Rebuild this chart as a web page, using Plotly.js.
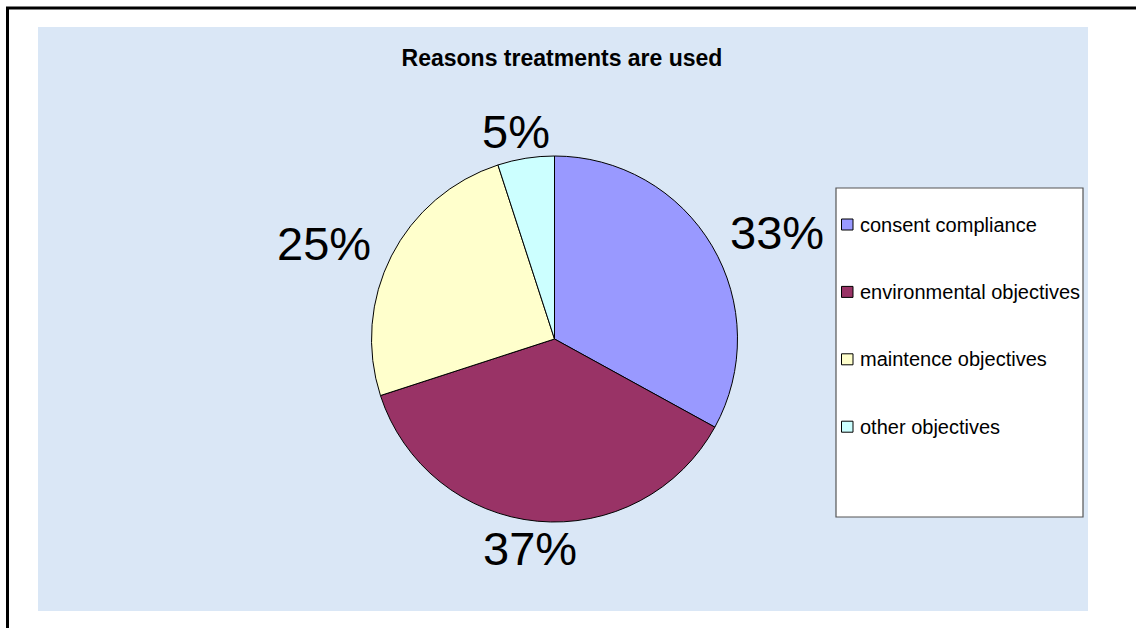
<!DOCTYPE html>
<html>
<head>
<meta charset="utf-8">
<script src="https://cdn.plot.ly/plotly-3.0.1.min.js"></script>
<style>
  html, body { margin: 0; padding: 0; background: #ffffff; }
  #chart { width: 1136px; height: 628px; }
</style>
</head>
<body>
<div id="chart"></div>
<script>
// ---- data ----
const chartTitle = 'Reasons treatments are used';
const categories = ['consent compliance', 'environmental objectives', 'maintence objectives', 'other objectives'];
const shares = [33, 37, 25, 5];
const sliceColors = ['#9999FF', '#993366', '#FFFFCC', '#CCFFFF'];

// ---- layout constants ----
const W = 1136, H = 628;
const FONT = 'Liberation Sans, Arial, sans-serif';
const CX = 554.5, CY = 339, R = 183;          // pie centre / radius (px)
const LRX = 212, LRY = 194;                    // label ring (px)
const PCT_SIZE = 47;
const px = x => x / W;
const py = y => 1 - y / H;

const total = shares.reduce((a, b) => a + b, 0);

const annotations = [];
const shapes = [];

// panel and frame
shapes.push({type: 'rect', xref: 'paper', yref: 'paper', layer: 'below',
  x0: px(38), x1: px(1088), y0: py(611), y1: py(27),
  fillcolor: '#dae7f6', line: {width: 0}});
shapes.push({type: 'line', xref: 'paper', yref: 'paper', layer: 'below',
  x0: px(6), x1: px(1136), y0: py(8), y1: py(8), line: {color: '#000', width: 3}});
shapes.push({type: 'line', xref: 'paper', yref: 'paper', layer: 'below',
  x0: px(7.5), x1: px(7.5), y0: py(7), y1: py(628), line: {color: '#000', width: 3}});

// percentage labels around the pie
let cum = 0;
shares.forEach((v, i) => {
  const mid = (cum + v / 2) / total * 2 * Math.PI;
  cum += v;
  const s = Math.sin(mid), c = Math.cos(mid);
  const txt = Math.round(v / total * 100) + '%';
  const hw = 0.5 * PCT_SIZE * (0.556 * (txt.length - 1) + 0.889);
  const hh = 16;
  const x = CX + s * LRX + hw * s;
  const y = CY - c * LRY - hh * c;
  annotations.push({xref: 'paper', yref: 'paper', x: px(x), y: py(y),
    xanchor: 'center', yanchor: 'middle', showarrow: false, text: txt,
    font: {family: FONT, size: PCT_SIZE, color: '#000'}});
});

// custom legend box
const LG = {x0: 836, x1: 1083, y0: 188, y1: 517, first: 224.5, step: 67.4};
shapes.push({type: 'rect', xref: 'paper', yref: 'paper', layer: 'above',
  x0: px(LG.x0), x1: px(LG.x1), y0: py(LG.y1), y1: py(LG.y0),
  fillcolor: '#ffffff', line: {color: '#555555', width: 1.2}});
categories.forEach((name, i) => {
  const yc = LG.first + i * LG.step;
  shapes.push({type: 'rect', xref: 'paper', yref: 'paper', layer: 'above',
    x0: px(841.5), x1: px(853), y0: py(yc + 5.5), y1: py(yc - 5.5),
    fillcolor: sliceColors[i], line: {color: '#000', width: 1}});
  annotations.push({xref: 'paper', yref: 'paper', x: px(858), y: py(yc),
    xanchor: 'left', yanchor: 'middle', showarrow: false, text: name,
    font: {family: FONT, size: 20, color: '#000'}});
});

const trace = {
  type: 'pie',
  labels: categories,
  values: shares,
  sort: false,
  direction: 'clockwise',
  rotation: 0,
  marker: {colors: sliceColors, line: {color: '#000000', width: 1}},
  textinfo: 'none',
  hoverinfo: 'none',
  showlegend: false,
  domain: {x: [px(CX - R), px(CX + R)], y: [py(CY + R), py(CY - R)]}
};

const layout = {
  width: W, height: H,
  margin: {l: 0, r: 0, t: 0, b: 0},
  paper_bgcolor: '#ffffff',
  showlegend: false,
  title: {text: chartTitle, x: px(562), xanchor: 'center', xref: 'paper',
    y: py(58), yanchor: 'middle', yref: 'paper',
    font: {family: FONT, size: 23, color: '#000', weight: 'bold'}},
  shapes: shapes,
  annotations: annotations
};

Plotly.newPlot('chart', [trace], layout, {staticPlot: true, displayModeBar: false});
</script>
</body>
</html>
